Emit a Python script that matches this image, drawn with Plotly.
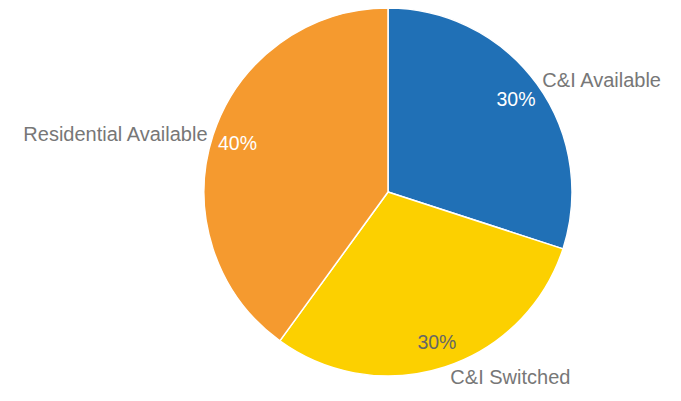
import plotly.graph_objects as go

labels = ["C&I Available", "C&I Switched", "Residential Available"]
values = [30, 30, 40]
colors = ["#2070b6", "#fcd000", "#f59a2f"]
pct_colors = ["#ffffff", "#666666", "#ffffff"]

domain = dict(x=[0, 1], y=[0, 1])
fig = go.Figure()
fig.add_trace(go.Pie(
    labels=labels, values=values, sort=False, direction="clockwise", rotation=0,
    marker=dict(colors=colors, line=dict(color="#ffffff", width=1.5)),
    textinfo="none", hoverinfo="label+percent", domain=domain, showlegend=False,
))
fig.add_trace(go.Pie(
    labels=labels, values=values, sort=False, direction="clockwise", rotation=0,
    hole=0.72,
    marker=dict(colors=["rgba(0,0,0,0)"] * 3, line=dict(width=0)),
    textinfo="percent", textposition="inside", insidetextorientation="horizontal",
    insidetextfont=dict(color=pct_colors, size=19.5, family="Liberation Sans, Arial"),
    hoverinfo="skip", domain=domain, showlegend=False,
))
fig.add_trace(go.Pie(
    labels=labels, values=values, sort=False, direction="clockwise", rotation=0,
    marker=dict(colors=["rgba(0,0,0,0)"] * 3, line=dict(width=0)),
    textinfo="label", textposition="outside", automargin=False,
    outsidetextfont=dict(color="#777777", size=20, family="Liberation Sans, Arial"),
    hoverinfo="skip", domain=domain, showlegend=False,
))
fig.update_layout(
    width=681, height=401,
    margin=dict(l=79, r=0, t=0, b=33),
    paper_bgcolor="white", plot_bgcolor="white",
)
fig.write_html("out.html")
